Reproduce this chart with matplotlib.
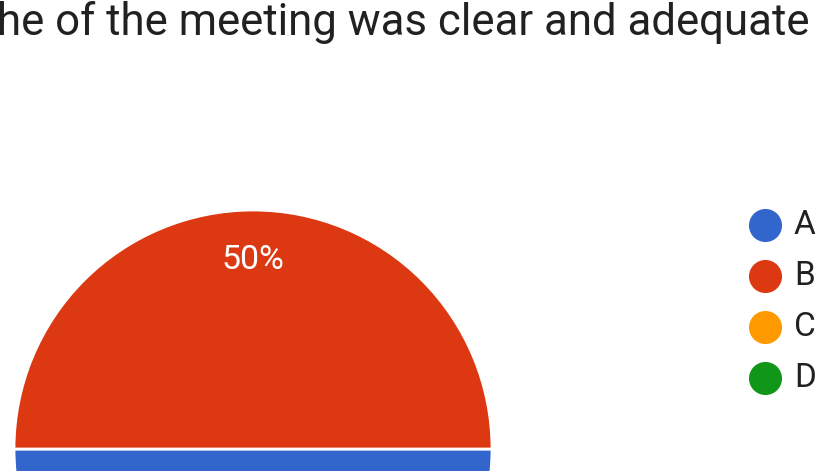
import matplotlib
matplotlib.use('Agg')
import matplotlib.pyplot as plt

# data
title = 'he of the meeting was clear and adequate'
labels = ['A', 'B', 'C', 'D']
values = [50, 50, 0, 0]
colors = ['#3366cc', '#dc3912', '#ff9900', '#109618']

plt.rcParams['font.family'] = ['Roboto', 'DejaVu Sans']

fig = plt.figure(figsize=(8.15, 4.71), dpi=100)
ax = fig.add_axes([0, 0, 1, 1])

# pie (only non-zero slices are drawn, like the original)
shown = [(v, c) for v, c in zip(values, colors) if v > 0]
wedges, texts, autotexts = ax.pie(
    [v for v, c in shown], colors=[c for v, c in shown],
    center=(253, 22), radius=239, startangle=0, counterclock=False,
    wedgeprops=dict(edgecolor='white', linewidth=2),
    autopct=lambda p: '%d%%' % round(p), pctdistance=0.79,
    textprops=dict(color='white', fontsize=24.5), frame=True)
ax.set_xlim(0, 815)
ax.set_ylim(0, 471)
ax.set_aspect('equal')
ax.axis('off')
# labels of slices that fall outside the picture are not shown
for t in autotexts:
    x, y = t.get_position()
    if y < 0:
        t.set_visible(False)

# title
ax.text(-3, 436, title, fontsize=31.5, color='#212121', ha='left', va='baseline')

# legend
for i, (lab, col) in enumerate(zip(labels, colors)):
    y = 471 - (225 + i * 51)
    ax.scatter([765], [y], s=520, color=col, zorder=3, clip_on=False)
    ax.text(794, y, lab, fontsize=24, color='#212121', va='center', ha='left')

fig.savefig('out.png', dpi=100)
